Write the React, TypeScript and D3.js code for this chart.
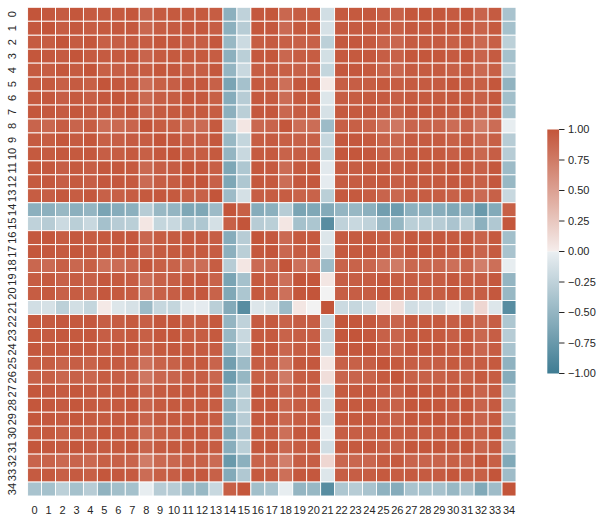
import React, { useEffect, useRef } from "react";
import * as d3 from "d3";

// variable names (0..34)
const labels = d3.range(35).map(String);

// lower triangle of the correlation matrix (row i has i+1 values)
const corrLower = [
  [1],
  [.98, 1],
  [.96, .95, 1],
  [.99, .98, .96, 1],
  [.96, .95, .99, .96, 1],
  [.96, .97, .93, .96, .93, 1],
  [.97, .98, .94, .97, .94, .98, 1],
  [.99, .98, .96, .99, .96, .96, .97, 1],
  [.90, .88, .95, .90, .95, .85, .87, .90, 1],
  [.96, .95, .99, .96, .99, .93, .94, .96, .95, 1],
  [.97, .96, .98, .97, .98, .94, .95, .97, .93, .98, 1],
  [.97, .98, .94, .97, .94, .98, .99, .97, .87, .94, .95, 1],
  [.97, .98, .94, .97, .94, .98, .98, .97, .86, .94, .95, .98, 1],
  [.95, .94, .98, .95, .98, .92, .93, .95, .97, .98, .97, .93, .92, 1],
  [-.55, -.55, -.48, -.55, -.50, -.65, -.58, -.55, -.30, -.48, -.50, -.63, -.63, -.45, 1],
  [-.25, -.30, -.18, -.28, -.20, -.40, -.30, -.28, .05, -.22, -.20, -.35, -.35, -.13, .93, 1],
  [.98, .99, .95, .98, .95, .97, .98, .98, .88, .95, .96, .98, .98, .94, -.58, -.30, 1],
  [.99, .98, .96, .99, .96, .96, .97, .99, .90, .96, .97, .97, .97, .95, -.55, -.28, .98, 1],
  [.88, .86, .93, .88, .93, .83, .85, .88, .99, .93, .91, .85, .84, .95, -.30, .05, .86, .88, 1],
  [.95, .97, .92, .95, .92, .98, .97, .95, .84, .92, .94, .97, .98, .91, -.65, -.40, .97, .95, .82, 1],
  [.95, .97, .92, .95, .92, .98, .97, .95, .84, .92, .94, .97, .98, .91, -.62, -.36, .97, .95, .82, .99, 1],
  [-.15, -.12, -.27, -.14, -.22, .03, -.08, -.12, -.45, -.21, -.22, -.05, -.03, -.28, -.60, -.85, -.08, -.11, -.45, .05, .00, 1],
  [.97, .96, .98, .97, .98, .94, .95, .97, .93, .98, .99, .95, .95, .97, -.50, -.25, .96, .97, .91, .94, .94, -.18, 1],
  [.97, .96, .98, .97, .98, .94, .95, .97, .93, .98, .99, .95, .95, .97, -.48, -.20, .96, .97, .91, .94, .94, -.21, .99, 1],
  [.98, .97, .97, .98, .97, .95, .97, .98, .91, .97, .98, .97, .96, .95, -.55, -.25, .97, .98, .89, .95, .95, -.15, .98, .98, 1],
  [.94, .95, .91, .94, .91, .97, .96, .94, .82, .91, .92, .96, .97, .90, -.70, -.45, .95, .94, .80, .98, .98, .05, .92, .92, .94, 1],
  [.92, .93, .89, .92, .89, .95, .94, .92, .78, .89, .90, .94, .94, .88, -.72, -.49, .93, .92, .76, .95, .95, .10, .90, .90, .91, .97, 1],
  [.99, .98, .96, .99, .96, .96, .97, .99, .90, .96, .97, .97, .97, .95, -.55, -.28, .98, .99, .88, .95, .95, -.15, .97, .97, .98, .94, .92, 1],
  [.99, .98, .96, .99, .96, .96, .97, .99, .90, .96, .97, .97, .97, .95, -.55, -.28, .98, .99, .88, .95, .95, -.12, .97, .97, .98, .94, .92, .99, 1],
  [.99, .98, .96, .99, .96, .96, .97, .99, .90, .96, .97, .97, .97, .95, -.57, -.30, .98, .99, .88, .95, .95, -.15, .97, .97, .98, .94, .92, .99, .99, 1],
  [.96, .97, .93, .96, .93, .99, .98, .96, .85, .93, .94, .98, .98, .92, -.62, -.37, .97, .96, .83, .98, .98, -.02, .94, .94, .95, .97, .95, .96, .96, .96, 1],
  [.99, .98, .96, .99, .96, .96, .97, .99, .90, .96, .97, .97, .97, .95, -.57, -.28, .98, .99, .88, .95, .95, -.15, .97, .97, .98, .94, .92, .99, .99, .99, .96, 1],
  [.90, .91, .87, .90, .87, .93, .92, .90, .75, .87, .88, .92, .92, .86, -.75, -.55, .91, .90, .73, .94, .94, .15, .88, .88, .89, .95, .97, .90, .90, .90, .93, .90, 1],
  [.96, .97, .93, .96, .93, .99, .98, .96, .85, .93, .94, .98, .98, .92, -.60, -.34, .97, .96, .83, .98, .98, -.08, .94, .94, .95, .97, .95, .96, .96, .96, .99, .96, .93, 1],
  [-.38, -.40, -.27, -.40, -.30, -.52, -.42, -.40, -.02, -.30, -.30, -.45, -.48, -.20, .93, .99, -.42, -.38, -.02, -.50, -.48, -.85, -.35, -.30, -.38, -.53, -.58, -.38, -.40, -.39, -.48, -.38, -.61, -.44, 1],
];

const cbarTicks = [1, 0.75, 0.5, 0.25, 0, -0.25, -0.5, -0.75, -1];

const W = 603, H = 523;
const FONT = "'Liberation Sans', Arial, sans-serif";

export default function App() {
  const ref = useRef<SVGSVGElement>(null);

  useEffect(() => {
    const svg = d3.select(ref.current);
    svg.selectAll("*").remove();

    const n = labels.length;
    const val = (i: number, j: number) => (j <= i ? corrLower[i][j] : corrLower[j][i]);
    const cells: { i: number; j: number; v: number }[] = [];
    for (let i = 0; i < n; i++) for (let j = 0; j < n; j++) cells.push({ i, j, v: val(i, j) });

    // seaborn diverging_palette(220, 20) approximation
    const color = d3
      .scaleLinear<string>()
      .domain([-1, -0.008, 0, 0.008, 1])
      .range(["#3e7c93", "#e9eef1", "#f2f2f2", "#f5ecea", "#c3553a"])
      .interpolate(d3.interpolateRgb)
      .clamp(true);

    const x = d3.scaleBand().domain(labels).range([27.6, 516]);
    const y = d3.scaleBand().domain(labels).range([7.3, 496]);

    const g = svg.append("g");
    g.selectAll("rect")
      .data(cells)
      .enter()
      .append("rect")
      .attr("x", (d) => x(labels[d.j])!)
      .attr("y", (d) => y(labels[d.i])!)
      .attr("width", x.bandwidth())
      .attr("height", y.bandwidth())
      .attr("fill", (d) => color(d.v))
      .attr("stroke", "white")
      .attr("stroke-width", 0.9);

    // x tick labels
    svg.append("g")
      .selectAll("text")
      .data(labels)
      .enter()
      .append("text")
      .attr("x", (d) => x(d)! + x.bandwidth() / 2)
      .attr("y", 514)
      .attr("text-anchor", "middle")
      .attr("font-family", FONT)
      .attr("font-size", 11)
      .attr("fill", "#262626")
      .text((d) => d);

    // y tick labels, rotated
    svg.append("g")
      .selectAll("text")
      .data(labels)
      .enter()
      .append("text")
      .attr("transform", (d) => `translate(16,${y(d)! + y.bandwidth() / 2}) rotate(-90)`)
      .attr("text-anchor", "middle")
      .attr("font-family", FONT)
      .attr("font-size", 11)
      .attr("fill", "#262626")
      .text((d) => d);

    // colorbar
    const cb = d3.scaleLinear().domain([-1, 1]).range([373.5, 129.5]);
    const stopVals = d3.range(-1, 1.0001, 0.1).concat([-0.008, 0.008]).sort((a, b) => a - b);
    const grad = svg
      .append("defs")
      .append("linearGradient")
      .attr("id", "cbar")
      .attr("x1", 0).attr("y1", 1).attr("x2", 0).attr("y2", 0);
    grad.selectAll("stop")
      .data(stopVals)
      .enter()
      .append("stop")
      .attr("offset", (d) => (d + 1) / 2)
      .attr("stop-color", (d) => color(d));

    svg.append("rect")
      .attr("x", 547.3)
      .attr("y", cb(1))
      .attr("width", 11.8)
      .attr("height", cb(-1) - cb(1))
      .attr("fill", "url(#cbar)");

    const tk = svg.append("g");
    tk.selectAll("line")
      .data(cbarTicks)
      .enter()
      .append("line")
      .attr("x1", 559.1)
      .attr("x2", 564.5)
      .attr("y1", (d) => cb(d))
      .attr("y2", (d) => cb(d))
      .attr("stroke", "#262626")
      .attr("stroke-width", 1);
    tk.selectAll("text")
      .data(cbarTicks)
      .enter()
      .append("text")
      .attr("x", 568)
      .attr("y", (d) => cb(d))
      .attr("dy", "0.35em")
      .attr("font-family", FONT)
      .attr("font-size", 11)
      .attr("fill", "#262626")
      .text((d) => d3.format(".2f")(d).replace("-", "\u2212"));
  }, []);

  return (
    <svg
      ref={ref}
      width={W}
      height={H}
      style={{ position: "absolute", left: 0, top: 0, background: "white" }}
    />
  );
}
